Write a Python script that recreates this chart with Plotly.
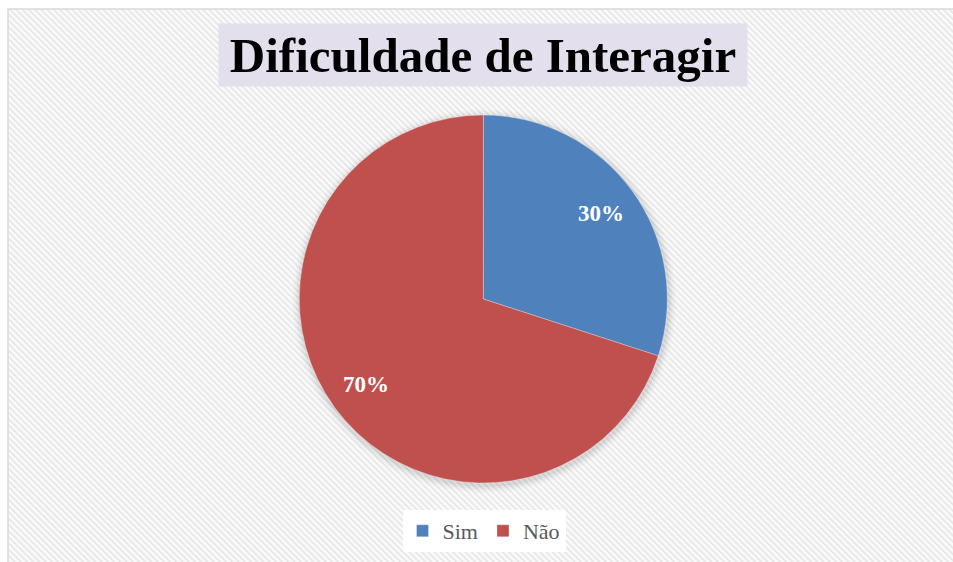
import base64
import math
import plotly.graph_objects as go

# ---- data ----
categories = ["Sim", "Não"]
values = [30, 70]
colors = ["#4F81BD", "#C0504D"]
title_text = "Dificuldade de Interagir"

W, H = 953, 562
BX, BY = 8, 9  # top-left corner of the chart frame
cx, cy, r = 483.3, 299.0, 184.0  # pie centre / radius in pixels


def dom(cx, cy, r):
    return dict(x=[(cx - r) / W, (cx + r) / W],
                y=[(H - cy - r) / H, (H - cy + r) / H])


# hatched background as inline svg
bw, bh = W - BX, H - BY
svg = f'''<svg xmlns="http://www.w3.org/2000/svg" width="{bw}" height="{bh}" viewBox="0 0 {bw} {bh}" preserveAspectRatio="none">
<defs><pattern id="p" patternUnits="userSpaceOnUse" width="4.4" height="4.4" patternTransform="rotate(-45)">
<rect x="0" y="0" width="4.4" height="4.4" fill="#fbfbfb"/>
<rect x="0" y="0" width="2" height="4.4" fill="#e8e8e8"/></pattern></defs>
<rect x="0" y="0" width="{bw}" height="{bh}" fill="url(#p)"/></svg>'''
src = "data:image/svg+xml;base64," + base64.b64encode(svg.encode()).decode()

fig = go.Figure()

# soft shadow
for i, a in enumerate([0.045, 0.035, 0.025, 0.015]):
    fig.add_trace(go.Pie(values=[1], labels=[" "], domain=dom(cx + 1, cy + 2, r + 2 + 2 * i),
                         marker=dict(colors=[f"rgba(0,0,0,{a})"], line=dict(width=0)),
                         textinfo="none", hoverinfo="skip", showlegend=False, sort=False))

fig.add_trace(go.Pie(
    labels=categories, values=values, sort=False, direction="clockwise", rotation=0,
    marker=dict(colors=colors, line=dict(color="rgba(255,255,255,0.5)", width=0.6)),
    textinfo="none", domain=dom(cx, cy, r), hoverinfo="label+percent",
))

# percentage labels along bisectors
total = sum(values)
annotations = []
start = 0.0
for v in values:
    frac = v / total
    mid = (start + frac / 2) * 2 * math.pi
    px = cx + 0.79 * r * math.sin(mid)
    py = cy - 0.79 * r * math.cos(mid)
    annotations.append(dict(x=px / W, y=(H - py) / H, xref="paper", yref="paper",
                            xanchor="center", yanchor="middle",
                            text=f"<b>{round(frac * 100)}%</b>", showarrow=False,
                            font=dict(family="Liberation Serif", size=23, color="white")))
    start += frac

annotations.append(dict(x=483 / W, y=(H - 55) / H, xref="paper", yref="paper",
                        xanchor="center", yanchor="middle",
                        text=f"<b>{title_text}</b>", showarrow=False,
                        width=528, height=62, bgcolor="#E4DFEC", borderpad=0,
                        font=dict(family="Liberation Serif", size=49, color="black")))

fig.update_layout(
    width=W, height=H, margin=dict(l=0, r=0, t=0, b=0),
    paper_bgcolor="white", plot_bgcolor="white",
    annotations=annotations,
    images=[dict(source=src, xref="paper", yref="paper", x=BX / W, y=1 - BY / H,
                 sizex=bw / W, sizey=bh / H, sizing="stretch", layer="below",
                 xanchor="left", yanchor="top")],
    shapes=[dict(type="path", xref="paper", yref="paper",
                 path=f"M {BX / W} 0 L {BX / W} {1 - BY / H} L 1 {1 - BY / H}",
                 line=dict(color="#d9d9d9", width=1.5), layer="below")],
    legend=dict(orientation="h", x=484 / W, xanchor="center",
                y=(H - 531) / H, yanchor="middle",
                bgcolor="white", font=dict(family="Liberation Serif", size=22, color="#595959"),
                itemwidth=30, tracegroupgap=0),
)

fig.write_html("out.html", config={"displayModeBar": False},
               post_script="document.body.style.margin='0';document.body.style.overflow='hidden';")
